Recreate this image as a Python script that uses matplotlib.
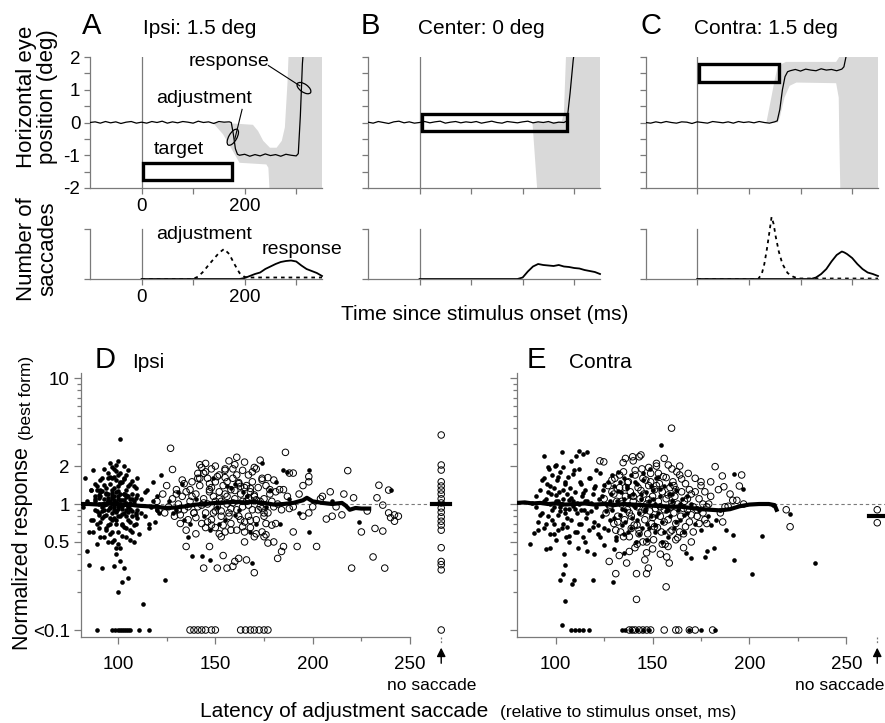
import matplotlib
matplotlib.use('Agg')
import matplotlib.pyplot as plt
from matplotlib.patches import Rectangle, Ellipse
from matplotlib.transforms import ScaledTranslation

plt.rcParams['font.family'] = ['Liberation Sans', 'DejaVu Sans']

# ---------------- data: eye traces (deg vs ms) ----------------
trace_a_t = [-100,-90,-80,-70,-60,-50,-40,-30,-20,-10,0,10,20,30,40,50,60,70,80,90,100,110,120,130,140,150,160,170,
             174,178,182,186,190,200,210,220,230,240,250,260,270,280,290,300,304,308,312,316]
trace_a_y = [0,0.02,-0.02,0.03,-0.01,0.02,-0.03,0.01,0.03,-0.02,0.01,-0.02,0.03,0.0,0.04,-0.02,0.02,-0.01,0.03,0.01,
             -0.02,0.04,0.0,0.02,-0.03,0.03,0.01,0.02,0.0,-0.35,-0.8,-0.97,-1.0,-0.97,-1.03,-0.98,-1.02,-0.96,-1.01,
             -0.98,-1.03,-0.97,-1.0,-1.02,-0.95,0.2,1.8,2.6]
trace_b_t = [-100,-90,-80,-70,-60,-50,-40,-30,-20,-10,0,10,20,30,40,50,60,70,80,90,100,110,120,130,140,150,160,170,
             180,190,200,210,220,230,240,250,260,270,280,286,292,298,304]
trace_b_y = [0.01,-0.02,0.03,0.0,-0.03,0.02,0.04,-0.01,0.02,-0.02,0.0,0.03,-0.01,0.02,0.04,-0.02,0.01,0.03,-0.01,0.02,
             0.0,0.03,-0.02,0.01,0.04,0.0,-0.02,0.03,0.01,-0.01,0.02,0.04,-0.01,0.02,0.0,0.03,-0.02,0.01,0.0,0.05,0.9,1.9,2.6]
trace_c_t = [-100,-90,-80,-70,-60,-50,-40,-30,-20,-10,0,10,20,30,40,50,60,70,80,90,100,110,120,130,140,150,
             155,160,165,170,175,180,190,200,210,220,230,240,250,260,270,280,284,288,292]
trace_c_y = [0.0,-0.02,0.02,-0.01,0.03,0.0,-0.02,0.02,0.01,-0.03,0.02,0.0,-0.02,0.03,0.01,-0.01,0.02,-0.02,0.03,0.0,
             0.02,-0.01,0.03,0.0,-0.02,0.02,0.05,0.4,1.0,1.4,1.55,1.58,1.62,1.57,1.63,1.6,1.58,1.64,1.6,1.62,1.58,1.63,
             1.7,2.0,2.6]

# target windows (ms start, ms end, deg low, deg high)
target_a = [3, 175, -1.77, -1.25]
target_b = [4, 286, -0.27, 0.27]
target_c = [3, 158, 1.25, 1.78]

# grey variability regions (polygon outlines)
grey_a_x = [138,177,216,226,236,249,262,272,278,283,285,350,350,248,246,242,190,177,158,138]
grey_a_y = [0,-0.03,-0.07,-0.26,-0.56,-0.77,-0.77,-0.56,-0.15,1.2,2,2,-2,-2,-1.38,-1.28,-1.23,-0.87,-0.36,0]
grey_b_x = [219,276,280,284,350,350,228,219]
grey_b_y = [0,0.03,0.3,2,2,-2,-2,0]
grey_c_x = [134,144,150,156,165,172,269,275,350,350,277,275,274,269,192,179,169,160,156,134]
grey_c_y = [0,0.8,1.3,1.7,1.8,1.85,1.85,2,2,-2,-2,-0.36,0.76,1.2,1.22,1.12,0.76,0.15,0,0]

# ---------------- data: saccade latency distributions ----------------
hist_a_adj_t = [0,100,110,120,130,140,150,160,170,180,190,200,210,220,240,260,280,300,320,350]
hist_a_adj_y = [0,0,0.05,0.15,0.28,0.4,0.52,0.6,0.5,0.3,0.12,0.04,0.03,0.03,0.03,0.03,0.03,0.03,0.03,0.03]
hist_a_resp_t = [0,190,200,210,220,230,240,250,260,270,280,290,300,310,320,330,340,350]
hist_a_resp_y = [0,0,0.02,0.06,0.1,0.13,0.2,0.25,0.3,0.34,0.36,0.37,0.35,0.27,0.2,0.16,0.12,0.06]
hist_b_resp_t = [0,190,200,210,220,230,240,250,260,270,280,290,300,310,320,330,340,350]
hist_b_resp_y = [0,0,0.03,0.15,0.25,0.3,0.28,0.27,0.26,0.28,0.25,0.24,0.22,0.21,0.18,0.16,0.14,0.1]
hist_c_adj_t = [0,118,125,130,135,140,144,148,152,158,165,175,185,195,200,350]
hist_c_adj_y = [0,0,0.1,0.3,0.6,0.95,1.24,1.1,0.85,0.55,0.3,0.12,0.05,0.01,0.01,0.01]
hist_c_resp_t = [0,220,230,240,250,260,270,280,285,290,300,310,320,330,340,350]
hist_c_resp_y = [0,0,0.03,0.1,0.2,0.35,0.48,0.55,0.53,0.5,0.42,0.3,0.2,0.13,0.1,0.06]

# ---------------- data: panel D (ipsi) ----------------
d_fill_lat = [82,83,84,84,85,86,86,87,87,88,88,89,89,90,90,91,91,92,92,92,93,93,93,94,94,94,95,95,95,95,
              96,96,96,96,97,97,97,97,97,98,98,98,98,98,99,99,99,99,99,99,100,100,100,100,100,100,101,101,101,101,
              101,102,102,102,102,103,103,103,103,104,104,104,104,105,105,105,106,106,106,107,107,108,108,109,109,
              110,110,111,112,113,114,115,116,117,118,119,120,121,122,124,126,128,131,134,136,138,143,147,147,152,
              156,160,160,164,168,169,174,178,183,185,188,224,
              90,92,94,96,98,100,102,104,106,108,91,93,95,97,99,101,103,105,107,109,97,99,101,103,100,98]
d_fill_resp = [0.95,1.6,0.42,1.05,0.33,0.75,1.3,0.6,1.85,0.9,1.15,0.7,1.4,0.85,1.0,0.55,1.25,0.31,0.95,1.6,
               0.8,1.1,1.9,0.65,1.0,1.35,0.5,0.9,1.2,1.75,0.7,1.05,1.45,2.1,0.6,0.85,1.0,1.3,1.6,0.32,
               0.78,0.95,1.15,1.9,0.45,0.7,0.88,1.02,1.25,1.55,0.2,0.6,0.92,1.1,1.4,2.2,0.35,0.8,1.0,1.2,
               3.3,0.24,0.68,0.97,1.5,0.31,0.85,1.08,2.0,0.55,0.9,1.3,1.7,0.26,0.75,1.15,0.62,1.0,1.45,0.8,
               1.2,0.5,1.05,0.7,1.35,0.9,1.6,0.58,1.1,0.16,0.8,1.3,0.65,0.95,1.5,0.72,1.15,0.85,1.7,0.25,
               1.05,0.85,1.25,0.75,0.55,0.39,0.39,0.36,0.62,0.7,1.4,0.82,1.45,1.25,0.6,0.34,2.1,1.3,0.7,1.85,
               1.1,0.72,
               1.12,0.88,1.22,0.78,1.08,1.28,0.83,1.18,0.92,1.38,1.3,0.9,1.05,1.15,0.75,1.5,1.2,0.95,1.1,0.85,
               0.5,0.4,0.45,0.66,1.7,1.65]
d_fill_lat2 = [88,89,90,91,92,93,94,95,96,97,98,99,100,101,102,103,104,105,106,107,108,109,110,
               88,89,90,91,92,93,94,95,96,97,98,99,100,101,102,103,104,105,106,107,108,109,110,
               93,94,95,96,97,98,99,100,101,102,103,104,105,106,107,
               94,95,96,97,98,99,100,101,102,103,104,105,106,
               112,114,116,118,120,85,86,87,88,89,90,91,
               130,133,137,140,144,149,151,155,158,162,166,171,176,181,187,193,198,210,240,198]
d_fill_resp2 = [1.05,0.88,1.18,0.72,1.28,0.98,0.82,1.12,0.93,1.22,1.02,0.87,1.15,0.96,1.08,1.2,0.8,0.97,1.1,0.88,1.0,0.82,1.18,
                1.45,1.3,0.65,1.55,0.78,1.42,1.2,0.68,1.65,0.74,1.35,1.82,0.8,1.48,0.7,1.58,1.02,1.38,0.72,1.52,0.68,1.12,0.78,
                0.55,0.62,1.62,0.58,1.95,0.52,2.05,0.48,1.75,0.56,1.62,0.64,1.85,0.52,0.6,
                1.0,1.06,0.94,1.12,0.9,1.04,0.96,1.08,0.92,1.0,1.14,0.86,1.02,
                0.85,1.25,0.7,1.05,0.9,0.6,1.3,0.75,1.1,0.48,0.82,1.15,
                0.9,1.45,0.7,1.1,0.8,1.6,0.95,0.75,1.35,0.9,1.15,0.7,0.95,1.5,1.8,0.85,1.85,1.05,1.3,0.6]
d_fill_zero_lat = [89,97,98.5,100,101,102,103,104,105,106,111,116]

d_open_lat = [120,121,123,124,125,126,127,128,128,129,130,131,132,133,134,135,135,136,137,138,139,140,140,141,142,
              143,143,144,144,145,145,146,146,147,147,148,148,149,150,150,151,151,152,152,153,153,154,154,155,155,
              156,156,157,157,158,158,159,159,160,160,161,161,162,162,163,163,164,164,165,165,166,166,167,167,168,
              168,169,169,170,170,171,171,172,173,173,174,174,175,175,176,177,177,178,179,180,181,182,182,183,184,
              184,185,186,187,188,188,190,190,192,193,195,198,198,198,202,204,207,209,212,215,216,218,220,221,225,
              228,231,232,233,234,236,236,237,239,239,240,242,242,244,
              141,144,147,150,153,156,159,162,165,168,171,174,148,152,158,164,170,176,142,155,161,167]
d_open_resp = [1.05,0.9,1.2,0.85,1.4,0.95,2.77,1.88,1.1,0.8,1.3,1.0,0.7,1.15,0.9,0.46,1.25,0.75,1.05,1.5,
               0.85,0.58,1.2,0.95,1.4,1.95,0.7,0.31,1.1,1.8,0.85,1.6,1.0,0.46,1.3,0.75,1.9,1.15,0.65,1.5,
               0.31,0.95,1.25,1.7,0.8,1.05,0.39,1.4,0.6,1.9,0.31,1.0,2.2,0.85,1.3,0.7,0.32,1.6,0.35,1.1,
               2.35,0.9,1.45,0.37,0.75,1.2,1.85,0.95,0.6,1.35,0.36,1.05,1.7,0.8,1.25,0.65,1.5,0.9,0.285,1.15,
               1.9,0.75,1.35,2.23,0.95,0.6,1.6,1.1,0.8,1.4,0.49,0.85,1.2,1.05,1.55,0.7,0.37,1.0,1.3,0.42,
               0.9,0.46,2.57,1.15,1.76,0.92,1.76,0.95,0.46,1.2,0.8,1.65,1.5,0.85,0.46,1.1,0.76,1.25,0.95,0.82,
               1.2,1.84,0.31,1.12,0.6,0.88,0.38,0.64,1.12,1.41,0.61,0.98,0.31,1.29,0.85,0.78,0.73,0.82,0.8,
               1.6,1.75,1.25,1.05,0.88,1.15,1.02,1.48,0.72,1.33,1.08,0.92,0.68,0.58,0.62,0.66,0.55,0.57,
               2.05,1.62,1.7,0.98]
d_open_lat2 = [130,132,134,136,138,140,142,144,146,148,150,152,154,156,158,160,162,164,166,168,170,172,174,176,178,180,
               131,133,135,137,139,141,143,145,147,149,151,153,155,157,159,161,163,165,167,169,171,173,175,177,179,181,
               145,150,155,160,165,170,175,180,185,190,195,200,205,210]
d_open_resp2 = [1.2,0.82,1.45,0.95,1.15,0.78,1.6,1.02,0.72,1.35,0.88,1.1,0.68,1.5,0.92,1.28,0.8,1.05,1.4,0.74,1.18,0.9,1.55,0.7,1.3,0.95,
                0.9,1.55,0.62,1.3,0.85,1.75,0.98,0.65,1.45,0.85,1.65,0.55,1.2,0.8,1.9,0.62,1.38,0.5,1.12,1.8,0.58,1.05,0.85,1.62,0.68,1.25,
                2.1,2.0,1.85,2.05,2.15,1.95,0.55,0.5,1.3,0.6,1.4,0.95,1.15,0.8]
d_open_zero_lat = [137,139,141,143,145,148,150,163,165.5,168,170,172.5,175,177]
d_trend_lat = [81,85,90,95,100,103,106,110,115,120,125,130,135,140,145,150,155,160,165,170,175,180,185,190,195,
               197,200,205,210,215,217,219,222,225,229]
d_trend_resp = [1.0,1.0,0.99,1.01,1.0,0.98,0.99,0.97,0.96,0.95,0.93,0.94,0.96,0.99,1.0,1.02,1.03,1.04,1.03,1.04,
                1.02,0.99,1.0,1.02,1.07,1.12,1.05,1.02,1.0,1.02,0.97,0.9,0.93,0.92,0.92]
d_nosacc_resp = [3.53,2.04,1.86,1.5,1.39,1.29,1.2,1.1,1.02,0.93,0.86,0.79,0.73,0.68,0.62,0.45,0.35,0.33,0.3,0.1]
d_nosacc_median = 1.0

# ---------------- data: panel E (contra) ----------------
e_fill_lat = [86.5,88,88.6,90,91,92,93,93.8,94,94,95,95.2,95.5,96,96.5,96.9,97,97.5,98,98,99,99,99.5,100,100,100.5,
              101,101,101.5,102,102.4,102,103,103,103.5,103.8,104,104.5,104.7,104.7,105,105,105.5,106,106,106.5,107,
              107,107.5,108,108.6,109,109.3,109.5,110,110,110.7,111,111.5,112,112,112.5,113,113.5,114,114,114.5,115,
              115.5,116,116,117,117.5,118,119,119.3,120,120.5,121,122,122.5,123,124,124.5,125,126,127,128,128.5,129,
              129.7,130,131,131.5,132,133,133.5,134,135,135.5,136,137,137.5,138,139,139.5,140,141,141.5,142,143,144,
              144.5,145,146,146.5,147,148,148.5,149,150,151,151.5,152,153,154,154.6,155,156,157,158,158.5,159,160,
              161,162,163,164,165,166,167.3,168,169.7,170,172,174,175,177,178,178.5,180,181.7,183,185,188,191.7,192,
              192,196.6,201.2,206.4,212,221,234]
e_fill_resp = [0.48,1.02,0.59,0.95,0.72,1.3,0.85,2.4,1.6,0.65,1.1,0.44,1.45,0.8,1.9,0.45,0.58,1.2,0.9,1.7,0.7,1.35,
               2.0,0.52,1.05,1.55,0.82,0.62,1.25,0.95,0.25,1.8,2.6,0.11,0.7,0.28,1.1,0.4,0.33,0.17,1.45,0.85,0.55,1.2,
               0.66,1.65,0.92,0.5,1.35,0.75,0.23,1.05,0.25,1.85,0.6,1.25,2.4,0.85,0.45,2.63,1.0,1.5,0.7,1.15,2.5,0.55,
               0.9,1.3,0.78,2.6,1.05,0.62,1.6,0.88,1.2,0.25,0.72,1.4,0.95,0.58,1.1,1.75,0.8,1.3,0.65,1.0,1.5,0.75,1.2,
               0.9,0.24,1.4,0.55,1.05,1.8,0.82,1.25,0.68,1.1,1.6,0.9,1.35,0.6,1.0,1.7,0.78,1.2,0.95,0.5,1.45,0.85,1.1,
               0.65,1.55,0.92,1.25,0.7,1.05,1.9,0.8,1.3,0.6,1.0,1.6,0.85,1.15,2.94,0.72,1.4,0.95,0.55,1.2,0.8,1.05,
               0.65,1.3,0.9,0.75,1.1,0.6,0.41,0.85,0.37,1.0,0.7,0.9,0.62,0.38,0.42,0.8,0.68,0.45,0.75,0.9,0.62,0.57,
               0.36,1.73,1.31,0.28,0.56,0.98,0.84,0.34]
e_fill_lat2 = [90,92,94,96,98,100,102,104,106,108,110,112,114,116,118,120,122,124,126,128,130,132,134,136,138,
               91,93,95,97,99,101,103,105,107,109,111,113,115,117,119,121,123,125,127,129,131,133,135,137,139,
               140,142,144,146,148,150,152,154,156,158,160,162,164,166,168,141,143,145,147,149,151,153,155,157,159,
               97,99,101,103,105,107,109,111,113,115,100,104,108,112,116,120,125,130,135,96]
e_fill_resp2 = [1.15,0.82,1.05,1.25,0.75,1.18,0.88,1.3,0.78,1.12,0.92,0.7,1.22,0.85,1.02,1.35,0.68,1.15,0.88,1.05,0.78,1.28,0.92,0.72,1.15,
                0.62,1.55,0.7,1.4,0.58,1.65,0.64,1.5,0.56,1.72,0.6,1.45,0.5,1.6,0.66,1.85,0.55,1.42,0.62,1.7,0.52,1.5,0.58,1.38,0.64,
                0.98,0.75,1.2,0.88,0.65,1.1,0.8,1.32,0.6,0.9,1.2,0.72,1.0,0.82,1.15,1.5,0.58,1.75,0.52,1.4,0.68,1.65,0.5,0.88,1.45,
                1.0,0.95,1.05,1.0,0.92,1.08,0.97,1.02,0.9,1.05,2.05,1.95,2.2,1.9,0.42,0.4,0.47,0.44,0.41,1.95]
e_fill_zero_lat = [108,110,112,114,117,134,136,139,142,145,148,169,175,182]
e_open_lat = [122.8,124.8,125,126,127,127.6,128,129,130,130.5,131,131.5,132,132.8,133,133.5,134,134.8,135,135.5,
              136,136.6,137,137.5,138,138.5,139,139.7,140,140.5,140.9,141,141.7,141.7,142,142.5,143,143.1,143.5,144,
              144.5,145,145.5,146,146.5,146.9,146.9,147,147.5,147.8,148,148.5,149,149.5,150,150.5,151,151.5,152,152.5,
              153,153.5,154,154.5,155,155.5,156,156.5,157,157,157.3,158,158.1,158.6,159,159.5,159.8,160,160.5,161,
              161.5,162,162.5,163,164,164.5,165,166,166.5,167,168,168.4,169,170,171,172,173,174,175,176,
              177,178,179,180,182.3,184,186,186.2,186.8,187.4,189,190,191.4,193.5,194.8,196,197,219,221]
e_open_resp = [2.2,2.16,1.1,0.85,1.4,0.35,0.95,1.25,0.7,1.6,0.28,1.05,0.8,0.39,1.35,0.6,1.0,2.13,1.8,0.75,
               1.15,0.34,0.9,1.5,0.55,1.25,0.8,2.37,1.05,0.68,0.45,1.7,0.28,0.175,0.95,1.35,0.62,2.37,1.1,0.85,
               1.9,0.5,1.2,0.75,1.55,0.41,0.28,1.0,0.58,0.31,1.4,0.88,1.75,0.7,1.15,0.52,1.3,0.92,2.0,0.65,
               1.05,1.45,0.8,0.6,1.25,1.65,0.9,0.48,1.1,0.22,0.38,0.75,2.04,0.34,1.35,0.95,4.0,0.62,1.5,0.85,
               1.15,0.7,1.8,1.0,1.7,0.8,1.25,0.58,1.05,1.45,0.9,1.75,0.72,1.2,0.95,1.6,0.8,1.1,1.4,0.85,
               1.25,0.7,1.0,1.5,1.98,1.3,1.67,0.72,1.37,0.95,0.96,1.2,1.07,1.07,1.39,1.7,1.0,0.9,0.66]
e_open_lat2 = [128,130,132,134,136,138,140,142,144,146,148,150,152,154,156,158,160,162,164,166,168,170,172,174,176,
               129,131,133,135,137,139,141,143,145,147,149,151,153,155,157,159,161,163,165,167,169,171,173,175,177,
               136,140,144,148,152,156,160,164,138,142,146,150,154,158,162,166,170,180,185,178]
e_open_resp2 = [0.98,1.2,0.72,1.05,1.35,0.85,1.15,0.68,1.28,0.9,1.08,0.78,1.4,0.95,0.72,1.18,1.02,1.3,0.6,0.92,1.1,0.82,1.25,0.7,1.0,
                1.55,0.62,1.7,0.55,1.48,0.64,1.85,0.58,1.6,0.5,1.5,0.66,1.75,0.48,1.62,0.6,1.4,0.54,1.58,0.66,1.3,0.6,0.9,1.5,0.75,
                2.3,2.2,2.45,1.95,2.1,2.3,1.9,2.0,0.42,0.48,0.36,0.44,0.4,0.46,0.52,0.45,0.5,1.15,0.85,0.95]
e_open_zero_lat = [138,139.5,141,143,145,147,149,156,162,163.5,169,172,181]
e_trend_lat = [80,84,88,92,96,100,105,110,115,120,125,130,135,140,145,150,155,160,165,170,175,180,185,190,195,
               200,205,210,213,214]
e_trend_resp = [1.02,1.03,1.01,1.02,1.0,1.01,0.99,1.0,1.01,0.99,1.0,0.98,1.0,0.99,0.98,0.97,0.96,0.95,0.95,0.93,
                0.91,0.9,0.89,0.91,0.96,0.99,1.0,1.0,0.98,0.9]
e_nosacc_resp = [0.9,0.71]
e_nosacc_median = 0.8

nosacc_lat = 266
zero_value = 0.1
y_ticks = [0.1, 0.5, 1, 2, 10]
y_ticklabels = ['<0.1', '0.5', '1', '2', '10']

# ---------------- figure ----------------
W, H = 885, 723
fig = plt.figure(figsize=(W / 100, H / 100), dpi=100)
GREY = '#7a7a7a'
FILL = '#d9d9d9'


def box(l, t, r, b):
    return [l / W, 1 - b / H, (r - l) / W, (b - t) / H]


def ftext(x, y, s, **kw):
    fig.text(x / W, 1 - y / H, s, **kw)


def base_style(ax):
    for s in ['top', 'right']:
        ax.spines[s].set_visible(False)
    for s in ['left', 'bottom']:
        ax.spines[s].set_color(GREY)
        ax.spines[s].set_linewidth(0.9)
    ax.tick_params(which='both', colors=GREY, labelcolor='black', width=0.9)


def ellipse_px(ax, xy, w, h, ang):
    tr = fig.dpi_scale_trans + ScaledTranslation(xy[0], xy[1], ax.transData)
    ax.add_patch(Ellipse((0, 0), w / 100, h / 100, angle=ang, transform=tr, fill=False,
                         ec='black', lw=0.9, clip_on=False))


top_pos = [box(90, 57, 322, 188), box(368, 57, 600, 188), box(645.5, 57, 878, 188)]
hist_pos = [box(90, 216.5, 322, 279), box(368, 216.5, 600, 279), box(645.5, 216.5, 878, 279)]
traces = [(trace_a_t, trace_a_y), (trace_b_t, trace_b_y), (trace_c_t, trace_c_y)]
targets = [target_a, target_b, target_c]
greys = [(grey_a_x, grey_a_y), (grey_b_x, grey_b_y), (grey_c_x, grey_c_y)]

top_axes = []
for i in range(3):
    ax = fig.add_axes(top_pos[i])
    top_axes.append(ax)
    base_style(ax)
    ax.set_xlim(-100, 350)
    ax.set_ylim(-2, 2)
    ax.fill(greys[i][0], greys[i][1], color=FILL, lw=0, zorder=1)
    ax.axvline(0, color=GREY, lw=0.9, zorder=2)
    ax.plot(traces[i][0], traces[i][1], color='black', lw=0.9, zorder=3)
    t0, t1, y0, y1 = targets[i]
    ax.add_patch(Rectangle((t0, y0), t1 - t0, y1 - y0, fill=False, ec='black', lw=2.4, zorder=4))
    ax.set_xticks([0, 200])
    ax.set_xticks([100, 300], minor=True)
    ax.set_yticks([-2, -1, 0, 1, 2])
    ax.set_yticks([-1.5, -0.5, 0.5, 1.5], minor=True)
    ax.tick_params(which='both', length=4, labelsize=13.5, pad=3)
    if i == 0:
        ax.set_yticklabels(['-2', '-1', '0', '1', '2'])
    else:
        ax.set_xticklabels([])
        ax.set_yticklabels([])

hists = [[(hist_a_adj_t, hist_a_adj_y), (hist_a_resp_t, hist_a_resp_y)],
         [None, (hist_b_resp_t, hist_b_resp_y)],
         [(hist_c_adj_t, hist_c_adj_y), (hist_c_resp_t, hist_c_resp_y)]]
for i in range(3):
    ax = fig.add_axes(hist_pos[i])
    base_style(ax)
    ax.set_xlim(-100, 350)
    ax.set_ylim(0, 1.25)
    ax.spines['left'].set_bounds(0, 1)
    ax.plot([0, 0], [0, 1], color=GREY, lw=0.9)
    adj, resp = hists[i]
    if adj is not None:
        ax.plot(adj[0], adj[1], color='black', lw=1.3, ls=(0, (2, 2.2)), clip_on=False)
    ax.plot(resp[0], resp[1], color='black', lw=1.3, clip_on=False)
    ax.set_xticks([0, 200])
    ax.set_xticks([100, 300], minor=True)
    ax.set_yticks([0, 1])
    ax.set_yticklabels([])
    ax.tick_params(which='both', length=4, labelsize=13.5, pad=3)
    if i > 0:
        ax.set_xticklabels([])
    if i == 0:
        ax.text(122, 0.89, 'adjustment', ha='center', va='center', fontsize=14)
        ax.text(311, 0.6, 'response', ha='center', va='center', fontsize=14, clip_on=False)

# annotations panel A
axA = top_axes[0]
axA.text(73, -0.82, 'target', ha='center', va='center', fontsize=14)
axA.text(122, 0.72, 'adjustment', ha='center', va='center', fontsize=14)
axA.text(170, 1.85, 'response', ha='center', va='center', fontsize=14)
axA.plot([195, 181], [0.4, -0.5], color='black', lw=0.8)
ellipse_px(axA, (177, -0.45), 8, 18, -30)
axA.plot([246, 307], [1.74, 1.12], color='black', lw=0.8, clip_on=False)
ellipse_px(axA, (315, 1.05), 16, 8, -35)

# panel titles
ftext(82, 34, 'A', fontsize=21, va='baseline')
ftext(143, 34, 'Ipsi: 1.5 deg', fontsize=15, va='baseline')
ftext(361, 34, 'B', fontsize=21, va='baseline')
ftext(418, 34, 'Center: 0 deg', fontsize=15, va='baseline')
ftext(641, 34, 'C', fontsize=21, va='baseline')
ftext(694, 34, 'Contra: 1.5 deg', fontsize=15, va='baseline')

ftext(37, 97, 'Horizontal eye\nposition (deg)', rotation=90, ha='center', va='center', fontsize=16,
      multialignment='center', linespacing=1.0)
ftext(37, 249, 'Number of\nsaccades', rotation=90, ha='center', va='center', fontsize=16,
      multialignment='center', linespacing=1.0)
ftext(485, 320, 'Time since stimulus onset (ms)', ha='center', va='baseline', fontsize=15)

# ---------------- D and E ----------------
scatter_sets = [
    dict(pos=box(81, 373, 449, 637), xmin=81, fl=d_fill_lat + d_fill_lat2, fr=d_fill_resp + d_fill_resp2,
         fz=d_fill_zero_lat, ol=d_open_lat + d_open_lat2, orr=d_open_resp + d_open_resp2, oz=d_open_zero_lat,
         tl=d_trend_lat, tr=d_trend_resp, ns=d_nosacc_resp, nm=d_nosacc_median, labels=True, nsx=432),
    dict(pos=box(517, 373, 885, 637), xmin=80, fl=e_fill_lat + e_fill_lat2, fr=e_fill_resp + e_fill_resp2,
         fz=e_fill_zero_lat, ol=e_open_lat + e_open_lat2, orr=e_open_resp + e_open_resp2, oz=e_open_zero_lat,
         tl=e_trend_lat, tr=e_trend_resp, ns=e_nosacc_resp, nm=e_nosacc_median, labels=False, nsx=840),
]
for S in scatter_sets:
    ax = fig.add_axes(S['pos'])
    base_style(ax)
    ax.set_yscale('log')
    ax.set_xlim(S['xmin'], 270)
    ax.set_ylim(0.088, 10.96)
    ax.spines['bottom'].set_bounds(S['xmin'], 250)
    ax.plot([S['xmin'], 270], [1, 1], color=GREY, lw=0.8, ls=(0, (3, 2.5)), zorder=1)
    ax.scatter(S['fl'], S['fr'], s=11, color='black', lw=0, zorder=3)
    ax.scatter(S['fz'], [zero_value] * len(S['fz']), s=11, color='black', lw=0, zorder=3)
    ax.scatter(S['ol'], S['orr'], s=22, facecolors='none', edgecolors='black', lw=0.7, zorder=4)
    ax.scatter(S['oz'], [zero_value] * len(S['oz']), s=22, facecolors='none', edgecolors='black', lw=0.7, zorder=4)
    ax.plot(S['tl'], S['tr'], color='black', lw=3, zorder=5)
    ax.scatter([nosacc_lat] * len(S['ns']), S['ns'], s=22, facecolors='none', edgecolors='black',
               lw=0.7, zorder=4, clip_on=False)
    ax.plot([nosacc_lat - 4.5, nosacc_lat + 4.5], [S['nm'], S['nm']], color='black', lw=3, zorder=5,
            clip_on=False)
    ax.set_yticks(y_ticks)
    ax.set_yticks([0.2, 0.3, 0.4, 0.6, 0.7, 0.8, 0.9, 3, 4, 5, 6, 7, 8, 9], minor=True)
    ax.set_yticklabels(y_ticklabels if S['labels'] else [''] * len(y_ticks))
    ax.yaxis.set_minor_formatter(plt.NullFormatter())
    ax.set_xticks([100, 150, 200, 250])
    ax.set_xticks([125, 175, 225], minor=True)
    ax.tick_params(which='major', length=5, labelsize=13.5)
    ax.tick_params(which='minor', length=3)
    ax.tick_params(axis='x', which='major', pad=9)
    ax.tick_params(axis='y', which='major', pad=3)
    # no-saccade arrow
    xt = ax.get_xaxis_transform()
    ax.plot([nosacc_lat, nosacc_lat], [0.0, -0.025], transform=xt, color=GREY, lw=0.9,
            ls=(0, (1.5, 1.5)), clip_on=False)
    ax.annotate('', xy=(nosacc_lat, -0.03), xycoords=xt, xytext=(nosacc_lat, -0.11), textcoords=xt,
                arrowprops=dict(arrowstyle='-|>', color='black', lw=1.0, mutation_scale=13))
    ftext(S['nsx'], 690, 'no saccade', ha='center', va='baseline', fontsize=12.5)

ftext(95, 368, 'D', fontsize=21, va='baseline')
ftext(132, 368, 'Ipsi', fontsize=15, va='baseline')
ftext(527, 368, 'E', fontsize=21, va='baseline')
ftext(569, 368, 'Contra', fontsize=15, va='baseline')

ftext(23, 650, 'Normalized response', rotation=90, ha='center', va='bottom', fontsize=15.5)
ftext(26, 440, '(best form)', rotation=90, ha='center', va='bottom', fontsize=12.5)
ftext(200, 717, 'Latency of adjustment saccade', ha='left', va='baseline', fontsize=15)
ftext(500, 717, '(relative to stimulus onset, ms)', ha='left', va='baseline', fontsize=12.5)

fig.savefig('out.png', dpi=100)
